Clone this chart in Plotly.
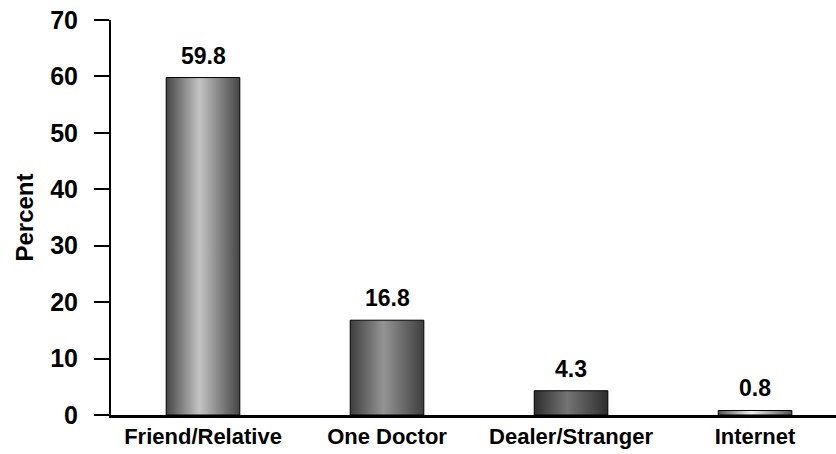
import plotly.graph_objects as go

# Source of prescription drugs (percent)
categories = ["Friend/Relative", "One Doctor", "Dealer/Stranger", "Internet"]
percent = [59.8, 16.8, 4.3, 0.8]
y_ticks = [0, 10, 20, 30, 40, 50, 60, 70]

# cylinder-like shading for each column: edge colour, highlight colour
edge_colors = ["#454545", "#3e3e3e", "#2e2e2e", "#505050"]
center_colors = ["#c4c4c4", "#949494", "#747474", "#f0f0f0"]

BAR_HALF = 0.2
FONT = "Liberation Sans, Arial, sans-serif"

fig = go.Figure()

for i, (cat, val) in enumerate(zip(categories, percent)):
    x0, x1 = i - BAR_HALF, i + BAR_HALF
    fig.add_trace(go.Scatter(
        x=[x0, x1, x1, x0, x0],
        y=[0, 0, val, val, 0],
        mode="lines",
        fill="toself",
        fillgradient=dict(
            type="horizontal",
            start=x0,
            stop=x1,
            colorscale=[[0, edge_colors[i]], [0.45, center_colors[i]], [1, edge_colors[i]]],
        ),
        line=dict(color="#000000", width=1),
        hoverinfo="skip",
        showlegend=False,
        name=cat,
    ))
    fig.add_annotation(
        x=i, y=val, text=f"<b>{val:.1f}</b>",
        showarrow=False, yanchor="bottom", yshift=7,
        font=dict(family=FONT, size=23, color="#000000"),
    )

fig.update_layout(
    width=836, height=454,
    margin=dict(l=111, r=0, t=20, b=39),
    paper_bgcolor="#ffffff",
    plot_bgcolor="#ffffff",
    font=dict(family=FONT, color="#000000"),
    xaxis=dict(
        range=[-0.5, 3.44],
        tickmode="array",
        tickvals=list(range(len(categories))),
        ticktext=[f"<b>{c}</b>" for c in categories],
        tickfont=dict(size=22),
        showline=True, linecolor="#000000", linewidth=2.5,
        showgrid=False, zeroline=False, ticks="",
    ),
    yaxis=dict(
        range=[0, 70],
        tickmode="array",
        tickvals=y_ticks,
        ticktext=[f"<b>{t}</b>" for t in y_ticks],
        tickfont=dict(size=25),
        ticks="outside", ticklen=15, tickwidth=2, tickcolor="#000000",
        ticklabelstandoff=11,
        showline=True, linecolor="#000000", linewidth=2,
        showgrid=False, zeroline=False,
        title=dict(text="<b>Percent</b>", font=dict(size=24), standoff=10),
    ),
)

fig.write_html("out.html")
